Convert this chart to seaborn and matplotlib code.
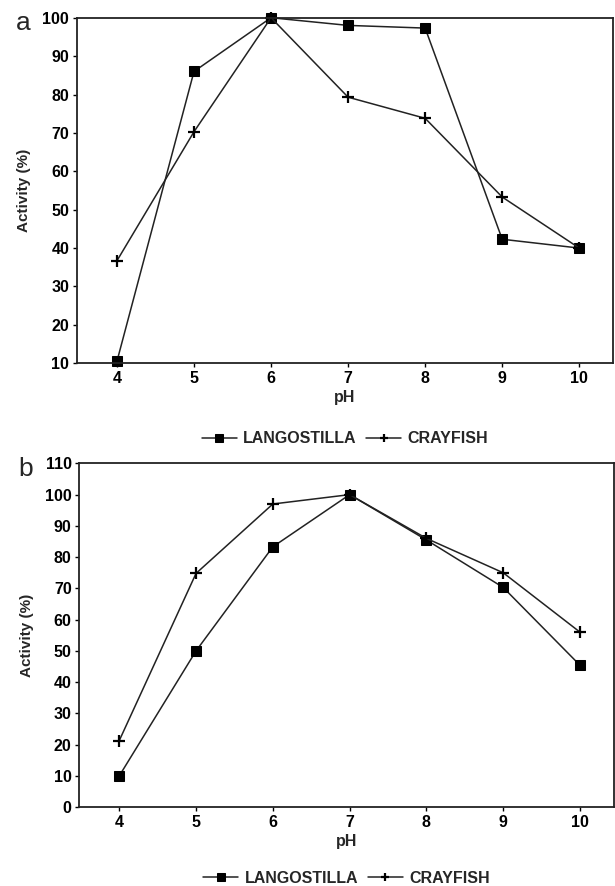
import pandas as pd
import matplotlib.pyplot as plt
import seaborn as sns

ph = [4, 5, 6, 7, 8, 9, 10]

# panel a
langostilla_a = [10.5, 86, 100, 98, 97.3, 42.3, 40]
crayfish_a = [36.7, 70.3, 100, 79.3, 73.8, 53.3, 40]

# panel b
langostilla_b = [10, 50, 83.3, 100, 85.5, 70.3, 45.4]
crayfish_b = [21.3, 74.8, 97, 100, 86, 75, 56]

yticks_a = list(range(10, 101, 10))
yticks_b = list(range(0, 111, 10))

sns.set_theme(style="ticks")
plt.rcParams['font.family'] = ['Liberation Sans', 'DejaVu Sans']

fig = plt.figure(figsize=(6.15, 8.86), dpi=100)
ax_a = fig.add_axes([0.125, 0.590, 0.872, 0.390])
ax_b = fig.add_axes([0.129, 0.089, 0.869, 0.388])


def draw_panel(ax, lang, cray, yticks, letter, leg_y):
    df = pd.DataFrame({'pH': ph, 'LANGOSTILLA': lang, 'CRAYFISH': cray})
    sns.lineplot(data=df, x='pH', y='LANGOSTILLA', ax=ax, color='#222222', lw=1.1,
                 marker='s', markersize=6.5, markeredgecolor='black',
                 markerfacecolor='black', label='LANGOSTILLA', clip_on=False)
    sns.lineplot(data=df, x='pH', y='CRAYFISH', ax=ax, color='#222222', lw=1.1,
                 marker='+', markersize=8, markeredgewidth=1.6,
                 markeredgecolor='black', label='CRAYFISH', clip_on=False)
    ax.set_xlim(3.48, 10.44)
    ax.set_ylim(yticks[0], yticks[-1])
    ax.set_xticks(ph)
    ax.set_yticks(yticks)
    ax.tick_params(axis='both', direction='out', length=3, width=1, labelsize=11.5,
                   pad=2.5, colors='black')
    for lbl in ax.get_xticklabels() + ax.get_yticklabels():
        lbl.set_fontweight('bold')
    for sp in ax.spines.values():
        sp.set_visible(True)
        sp.set_linewidth(1.3)
        sp.set_color('#222222')
    ax.set_xlabel('pH', fontsize=11.5, fontweight='bold', labelpad=3)
    ax.set_ylabel('Activity (%)', fontsize=11, fontweight='bold', labelpad=8)
    leg = ax.legend(loc='upper center', bbox_to_anchor=(0.5, leg_y), ncol=2, frameon=False,
                    prop={'weight': 'bold', 'size': 11.5}, handlelength=2.2,
                    columnspacing=0.6, handletextpad=0.4, markerscale=0.8)
    ax.text(-0.10, 0.985, letter, transform=ax.transAxes, fontsize=19,
            ha='center', va='center')


draw_panel(ax_a, langostilla_a, crayfish_a, yticks_a, 'a', -0.155)
draw_panel(ax_b, langostilla_b, crayfish_b, yticks_b, 'b', -0.143)

fig.savefig('out.png', dpi=100)
